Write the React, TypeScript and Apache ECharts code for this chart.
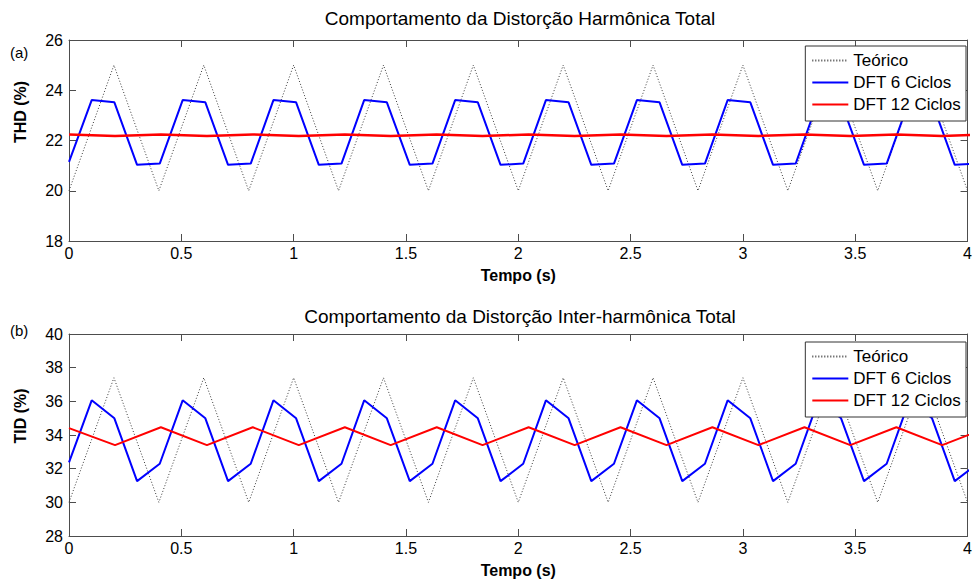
import React, { useEffect, useRef } from "react";
import * as echarts from "echarts";

const FONT = "'Liberation Sans', Arial, Helvetica, sans-serif";

// Theoretical curves (s)
const theoryTimes = [0, 0.2, 0.4, 0.6, 0.8, 1.0, 1.2, 1.4, 1.6, 1.8, 2.0, 2.2, 2.4, 2.6, 2.8, 3.0, 3.2, 3.4, 3.6, 3.8, 4.0];
const thdTheory = [20, 25, 20, 25, 20, 25, 20, 25, 20, 25, 20, 25, 20, 25, 20, 25, 20, 25, 20, 25, 20];
const tidTheory = [30, 37.4, 30, 37.4, 30, 37.4, 30, 37.4, 30, 37.4, 30, 37.4, 30, 37.4, 30, 37.4, 30, 37.4, 30, 37.4, 30];

// DFT 6 cycles estimates
const dft6Times = [
  0, 0.101, 0.202, 0.303, 0.404, 0.506, 0.607, 0.708, 0.809, 0.91,
  1.011, 1.112, 1.213, 1.314, 1.415, 1.517, 1.618, 1.719, 1.82, 1.921,
  2.022, 2.123, 2.224, 2.325, 2.426, 2.528, 2.629, 2.73, 2.831, 2.932,
  3.033, 3.134, 3.235, 3.336, 3.437, 3.539, 3.64, 3.741, 3.842, 3.943, 4.044,
];
const thdDft6 = [
  21.15, 23.61, 23.52, 21.03, 21.08, 23.61, 23.52, 21.03, 21.08, 23.61,
  23.52, 21.03, 21.08, 23.61, 23.52, 21.03, 21.08, 23.61, 23.52, 21.03,
  21.08, 23.61, 23.52, 21.03, 21.08, 23.61, 23.52, 21.03, 21.08, 23.61,
  23.52, 21.03, 21.08, 23.61, 23.52, 21.03, 21.08, 23.61, 23.52, 21.03, 21.08,
];
const tidDft6 = [
  32.37, 36.06, 34.99, 31.26, 32.29, 36.06, 34.99, 31.26, 32.29, 36.06,
  34.99, 31.26, 32.29, 36.06, 34.99, 31.26, 32.29, 36.06, 34.99, 31.26,
  32.29, 36.06, 34.99, 31.26, 32.29, 36.06, 34.99, 31.26, 32.29, 36.06,
  34.99, 31.26, 32.29, 36.06, 34.99, 31.26, 32.29, 36.06, 34.99, 31.26, 32.29,
];

// DFT 12 cycles estimates
const dft12Times = [
  0, 0.205, 0.409, 0.614, 0.818, 1.023, 1.228, 1.432, 1.637, 1.841,
  2.046, 2.251, 2.455, 2.66, 2.864, 3.069, 3.274, 3.478, 3.683, 3.887, 4.092,
];
const thdDft12 = [
  22.24, 22.18, 22.24, 22.18, 22.24, 22.18, 22.24, 22.18, 22.24, 22.18,
  22.24, 22.18, 22.24, 22.18, 22.24, 22.18, 22.24, 22.18, 22.24, 22.18, 22.24,
];
const tidDft12 = [
  34.41, 33.4, 34.46, 33.4, 34.46, 33.4, 34.46, 33.4, 34.46, 33.4,
  34.46, 33.4, 34.46, 33.4, 34.46, 33.4, 34.46, 33.4, 34.46, 33.4, 34.46,
];

const titles = [
  "Comportamento da Distorção Harmônica Total",
  "Comportamento da Distorção Inter-harmônica Total",
];
const panelLabels = ["(a)", "(b)"];
const yNames = ["THD (%)", "TID (%)"];
const xName = "Tempo (s)";
const seriesNames = ["Teórico", "DFT 6 Ciclos", "DFT 12 Ciclos"];
const yRanges = [
  [18, 26],
  [28, 40],
];

const pairs = (xs: number[], ys: number[]) => xs.map((x, i) => [x, ys[i]]);

const AXIS_COLOR = "#4d4d4d";

export default function App() {
  const ref = useRef<HTMLDivElement>(null);

  useEffect(() => {
    if (!ref.current) return;
    const chart = echarts.init(ref.current, undefined, { renderer: "svg" });

    const grids = [
      { left: 69, right: 4, top: 40, height: 201 },
      { left: 69, right: 4, top: 334, height: 202 },
    ];
    const yNamePad = [57, 38];

    const xAxis: any[] = [];
    const yAxis: any[] = [];
    grids.forEach((_, g) => {
      const line = { show: true, onZero: false, lineStyle: { color: AXIS_COLOR, width: 1 } };
      const tick = { show: true, inside: true, length: 7, lineStyle: { color: AXIS_COLOR } };
      xAxis.push({
        gridIndex: g,
        type: "value",
        min: 0,
        max: 4,
        interval: 0.5,
        position: "bottom",
        name: xName,
        nameLocation: "middle",
        nameGap: 26,
        nameTextStyle: { fontWeight: "bold", fontSize: 16, color: "#000", fontFamily: FONT },
        axisLine: line,
        axisTick: tick,
        axisLabel: { fontSize: 16, color: "#000", margin: 4, fontFamily: FONT },
        splitLine: { show: false },
      });
      xAxis.push({
        gridIndex: g,
        type: "value",
        min: 0,
        max: 4,
        interval: 0.5,
        position: "top",
        axisLine: line,
        axisTick: tick,
        axisLabel: { show: false },
        splitLine: { show: false },
      });
      yAxis.push({
        gridIndex: g,
        type: "value",
        min: yRanges[g][0],
        max: yRanges[g][1],
        interval: 2,
        position: "left",
        name: yNames[g],
        nameLocation: "middle",
        nameGap: 41,
        nameTextStyle: {
          fontWeight: "bold",
          fontSize: 16,
          color: "#000",
          fontFamily: FONT,
          padding: [0, 0, 0, yNamePad[g]],
        },
        axisLine: line,
        axisTick: tick,
        axisLabel: { fontSize: 16, color: "#000", margin: 6, fontFamily: FONT },
        splitLine: { show: false },
      });
      yAxis.push({
        gridIndex: g,
        type: "value",
        min: yRanges[g][0],
        max: yRanges[g][1],
        interval: 2,
        position: "right",
        axisLine: line,
        axisTick: tick,
        axisLabel: { show: false },
        splitLine: { show: false },
      });
    });

    const mk = (name: string, data: number[][], g: number, style: any, z: number) => ({
      name,
      type: "line",
      xAxisIndex: g * 2,
      yAxisIndex: g * 2,
      data,
      symbol: "none",
      showSymbol: false,
      clip: true,
      z,
      lineStyle: style,
      itemStyle: { color: style.color },
      emphasis: { disabled: true },
    });

    const dotted = { color: "#3a3a3a", width: 1, type: [1, 2] };
    const blue = { color: "#0000ff", width: 2, type: "solid" };
    const redTop = { color: "#ff0000", width: 2.5, type: "solid" };
    const red = { color: "#ff0000", width: 2, type: "solid" };

    const series = [
      mk(seriesNames[0], pairs(theoryTimes, thdTheory), 0, dotted, 2),
      mk(seriesNames[1], pairs(dft6Times, thdDft6), 0, blue, 3),
      mk(seriesNames[2], pairs(dft12Times, thdDft12), 0, redTop, 4),
      mk(seriesNames[0], pairs(theoryTimes, tidTheory), 1, dotted, 2),
      mk(seriesNames[1], pairs(dft6Times, tidDft6), 1, blue, 3),
      mk(seriesNames[2], pairs(dft12Times, tidDft12), 1, red, 4),
    ];

    const legendTops = [46, 342];
    const legend = legendTops.map((top) => ({
      data: seriesNames,
      orient: "vertical",
      right: 9,
      top,
      padding: [6, 5, 8, 6],
      itemGap: 5,
      itemWidth: 36,
      itemHeight: 17,
      selectedMode: false,
      backgroundColor: "#fff",
      borderColor: "#333",
      borderWidth: 1,
      borderRadius: 0,
      itemStyle: { color: "transparent", borderWidth: 0, opacity: 0 },
      textStyle: { fontSize: 17, color: "#000", fontFamily: FONT },
      z: 10,
    }));

    const title = [
      { text: titles[0], left: 520, top: 9, textAlign: "center", padding: 0,
        textStyle: { fontSize: 19, fontWeight: "normal", color: "#000", fontFamily: FONT } },
      { text: titles[1], left: 520, top: 307, textAlign: "center", padding: 0,
        textStyle: { fontSize: 19, fontWeight: "normal", color: "#000", fontFamily: FONT } },
      { text: panelLabels[0], left: 10, top: 45, padding: 0,
        textStyle: { fontSize: 15, fontWeight: "normal", color: "#000", fontFamily: FONT } },
      { text: panelLabels[1], left: 10, top: 323, padding: 0,
        textStyle: { fontSize: 15, fontWeight: "normal", color: "#000", fontFamily: FONT } },
    ];

    chart.setOption({
      animation: false,
      backgroundColor: "#fff",
      textStyle: { fontFamily: FONT },
      title,
      legend,
      grid: grids,
      xAxis,
      yAxis,
      series,
    });

    return () => chart.dispose();
  }, []);

  return (
    <div
      ref={ref}
      style={{ position: "fixed", left: 0, top: 0, width: 975, height: 579, background: "#fff" }}
    />
  );
}
